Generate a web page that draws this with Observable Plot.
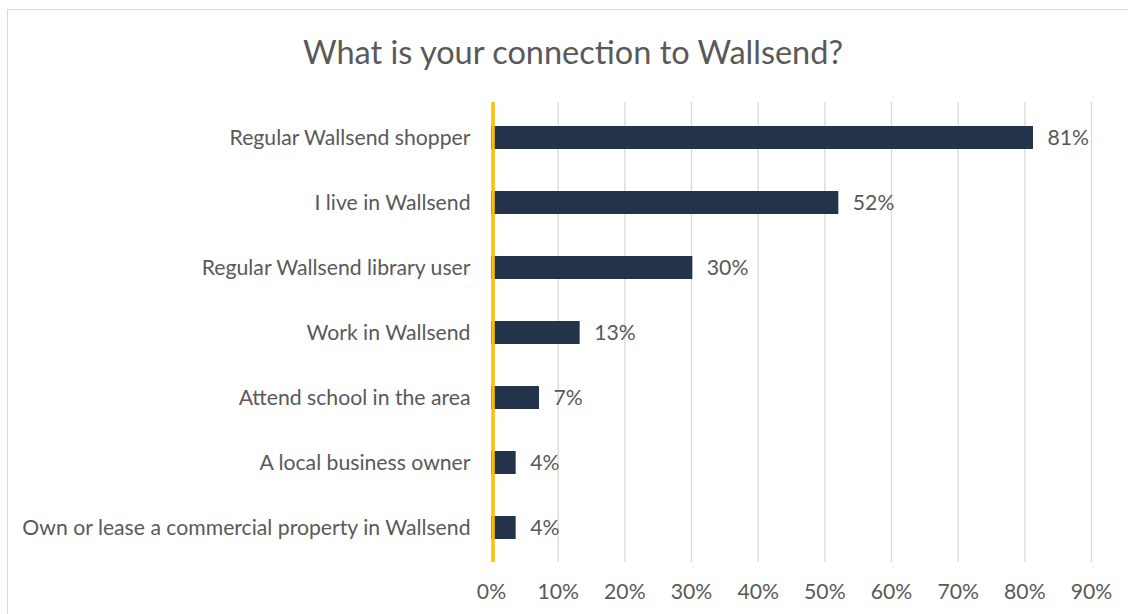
<!DOCTYPE html>
<html>
<head>
<meta charset="utf-8">
<script src="https://cdn.jsdelivr.net/npm/d3@7"></script>
<script src="https://cdn.jsdelivr.net/npm/@observablehq/plot@0.6"></script>
<style>
  html, body { margin: 0; padding: 0; background: #fff; overflow: hidden; }
  body { width: 1128px; height: 614px; position: relative; font-family: Lato, "Open Sans", sans-serif; }
  #frame { position: absolute; left: 7px; top: 9px; width: 1200px; height: 700px; border: 1px solid #d9d9d9; box-sizing: border-box; }
  #title { position: absolute; left: 0; top: 0; width: 1146px; height: 92px; line-height: 104px; text-align: center; margin: 0; font-weight: 400; font-size: 32.5px; color: #595959; }
  #chart { position: absolute; left: 0; top: 92px; }
</style>
</head>
<body>
<div id="frame"></div>
<h2 id="title">What is your connection to Wallsend?</h2>
<div id="chart"></div>
<script>
const categories = [
  "Regular Wallsend shopper",
  "I live in Wallsend",
  "Regular Wallsend library user",
  "Work in Wallsend",
  "Attend school in the area",
  "A local business owner",
  "Own or lease a commercial property in Wallsend"
];
const values = [0.813, 0.521, 0.302, 0.133, 0.072, 0.037, 0.037];
const xTicks = [0, 0.1, 0.2, 0.3, 0.4, 0.5, 0.6, 0.7, 0.8, 0.9];

const data = categories.map((c, i) => ({category: c, value: values[i]}));
const pct = d3.format(".0%");
const FS = 21.2;

const chart = Plot.plot({
  width: 1128,
  height: 522,
  marginTop: 10,
  marginBottom: 52,
  marginLeft: 491,
  marginRight: 37,
  style: {fontFamily: "Lato, 'Open Sans', sans-serif", fontSize: FS + "px", color: "#595959", background: "transparent"},
  x: {domain: [0, 0.9]},
  y: {domain: categories, paddingInner: 0.65, paddingOuter: 0.325},
  marks: [
    Plot.gridX(xTicks.filter(d => d > 0), {stroke: "#d9d9d9", strokeOpacity: 1, strokeWidth: 1.3}),
    Plot.barX(data, {x: "value", y: "category", fill: "#22334a"}),
    Plot.ruleX([0], {stroke: "#FFC000", strokeWidth: 3.5, dx: 1.5}),
    Plot.text(data, {x: "value", y: "category", text: d => pct(d.value), textAnchor: "start", dx: 14, fontSize: FS, fill: "#595959"}),
    Plot.axisX({ticks: xTicks, tickFormat: pct, tickSize: 0, tickPadding: 21, fontSize: FS, label: null}),
    Plot.axisY({tickSize: 0, tickPadding: 21, fontSize: FS, label: null})
  ]
});
document.getElementById("chart").appendChild(chart);
</script>
</body>
</html>
